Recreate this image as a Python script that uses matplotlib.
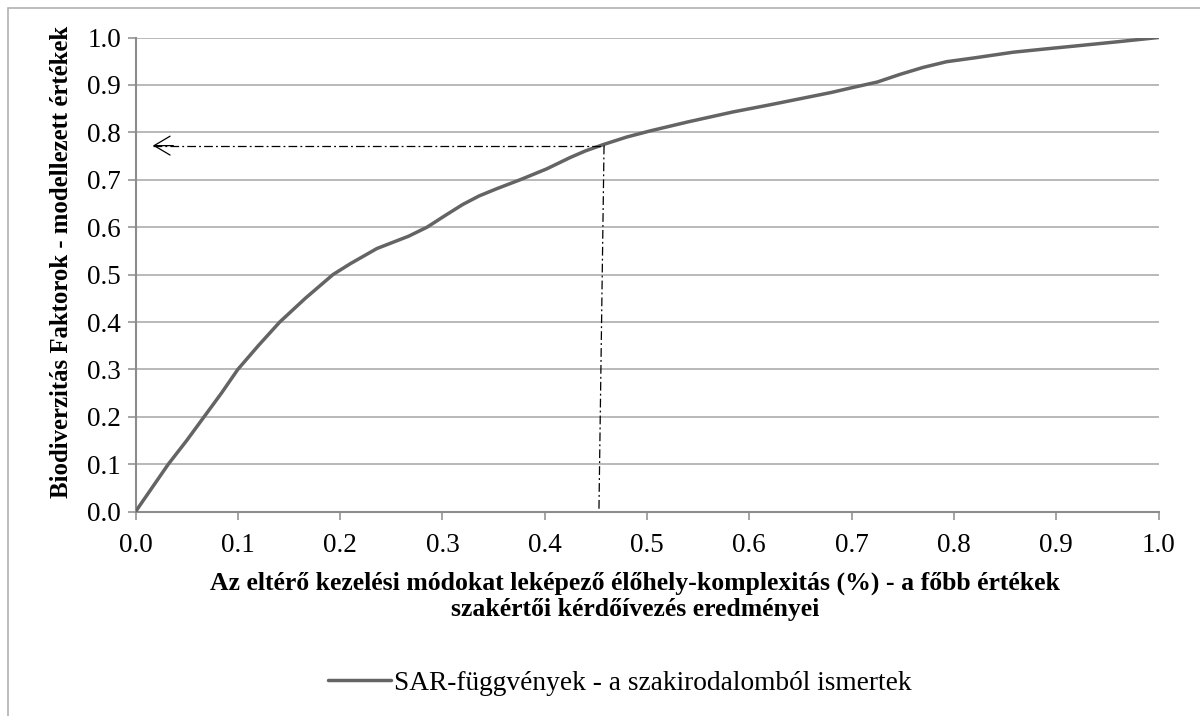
import matplotlib
matplotlib.use("Agg")
import matplotlib.pyplot as plt
from matplotlib.patches import Rectangle

# ---- data ----
x_vals = [0.0, 0.016, 0.032, 0.050, 0.067, 0.084, 0.100, 0.120, 0.141, 0.166,
          0.193, 0.210, 0.236, 0.267, 0.285, 0.303, 0.320, 0.336, 0.353, 0.376,
          0.402, 0.425, 0.440, 0.457, 0.480, 0.503, 0.540, 0.584, 0.620, 0.650,
          0.680, 0.702, 0.725, 0.747, 0.770, 0.793, 0.820, 0.858, 0.890, 0.923,
          0.960, 1.0]
y_vals = [0.0, 0.050, 0.100, 0.150, 0.200, 0.250, 0.300, 0.350, 0.400, 0.450,
          0.500, 0.523, 0.555, 0.581, 0.600, 0.625, 0.648, 0.666, 0.681, 0.700,
          0.723, 0.747, 0.761, 0.774, 0.790, 0.803, 0.822, 0.843, 0.858, 0.871,
          0.884, 0.895, 0.906, 0.922, 0.937, 0.949, 0.957, 0.969, 0.976, 0.983,
          0.991, 1.0]
series_name = "SAR-függvények - a szakirodalomból ismertek"

# reference read-off (dash-dot guide lines)
guide_x_top = 0.458
guide_x_bottom = 0.453
guide_y = 0.772
arrow_tip_x = 0.017

tick_vals = [0.0, 0.1, 0.2, 0.3, 0.4, 0.5, 0.6, 0.7, 0.8, 0.9, 1.0]
tick_labels = ["0.0", "0.1", "0.2", "0.3", "0.4", "0.5", "0.6", "0.7", "0.8", "0.9", "1.0"]

xlabel = "Az eltérő kezelési módokat leképező élőhely-komplexitás (%) - a főbb értékek\nszakértői kérdőívezés eredményei"
ylabel = "Biodiverzitás Faktorok - modellezett értékek"

# ---- figure ----
plt.rcParams['font.family'] = ['Liberation Serif', 'DejaVu Serif']
W, H = 1200, 716
fig = plt.figure(figsize=(W / 100, H / 100), dpi=100)

# outer chart frame
fig.patches.append(Rectangle((8 / W, -0.1), 1.2, 1.1 - 8 / H, transform=fig.transFigure,
                             fill=False, edgecolor='#b0b0b0', lw=1.2))

left, right, top, bottom = 135.5, 1158.5, 37.5, 511.7
ax = fig.add_axes([left / W, 1 - bottom / H, (right - left) / W, (bottom - top) / H])

ax.set_xlim(0, 1)
ax.set_ylim(0, 1)
ax.set_xticks(tick_vals)
ax.set_xticklabels(tick_labels)
ax.set_yticks(tick_vals)
ax.set_yticklabels(tick_labels)

ax.grid(axis='y', color='#a6a6a6', lw=1.1)
ax.set_axisbelow(True)
for s in ['top', 'right']:
    ax.spines[s].set_visible(False)
for s in ['left', 'bottom']:
    ax.spines[s].set_color('#8c8c8c')
    ax.spines[s].set_linewidth(1.5)
ax.tick_params(axis='both', direction='out', length=5.5, width=1.1, color='#8c8c8c',
               labelsize=19.5)
ax.tick_params(axis='x', pad=9.5)
ax.tick_params(axis='y', pad=5)

line, = ax.plot(x_vals, y_vals, color='#646464', lw=2.5, solid_capstyle='round',
                solid_joinstyle='round', label=series_name, zorder=3)

# dash-dot guide lines
ax.plot([arrow_tip_x, guide_x_top], [guide_y, guide_y], color='black', lw=0.9,
        dashes=(7, 2.5, 1.5, 2.5), zorder=4)
ax.plot([guide_x_top, guide_x_bottom], [guide_y, 0], color='black', lw=0.9,
        dashes=(7, 2.5, 1.5, 2.5), zorder=4)
ax.annotate('', xy=(arrow_tip_x, guide_y), xytext=(arrow_tip_x + 0.02, guide_y),
            arrowprops=dict(arrowstyle='->,head_length=1.15,head_width=0.68',
                            color='black', lw=0.9, shrinkA=0, shrinkB=0))

fig.text(635 / W, 1 - 596 / H, xlabel, ha='center', va='center', fontsize=18.5,
         fontweight='bold', linespacing=1.15)
fig.text(62 / W, 1 - 262 / H, ylabel, ha='center', va='center', rotation=90,
         fontsize=17.8, fontweight='bold')

fig.legend(handles=[line], labels=[series_name], loc='center',
           bbox_to_anchor=(620 / W, 1 - 683 / H), frameon=False, fontsize=19.7,
           handlelength=2.3, handletextpad=0.1)

fig.savefig('out.png', dpi=100, facecolor='white')
